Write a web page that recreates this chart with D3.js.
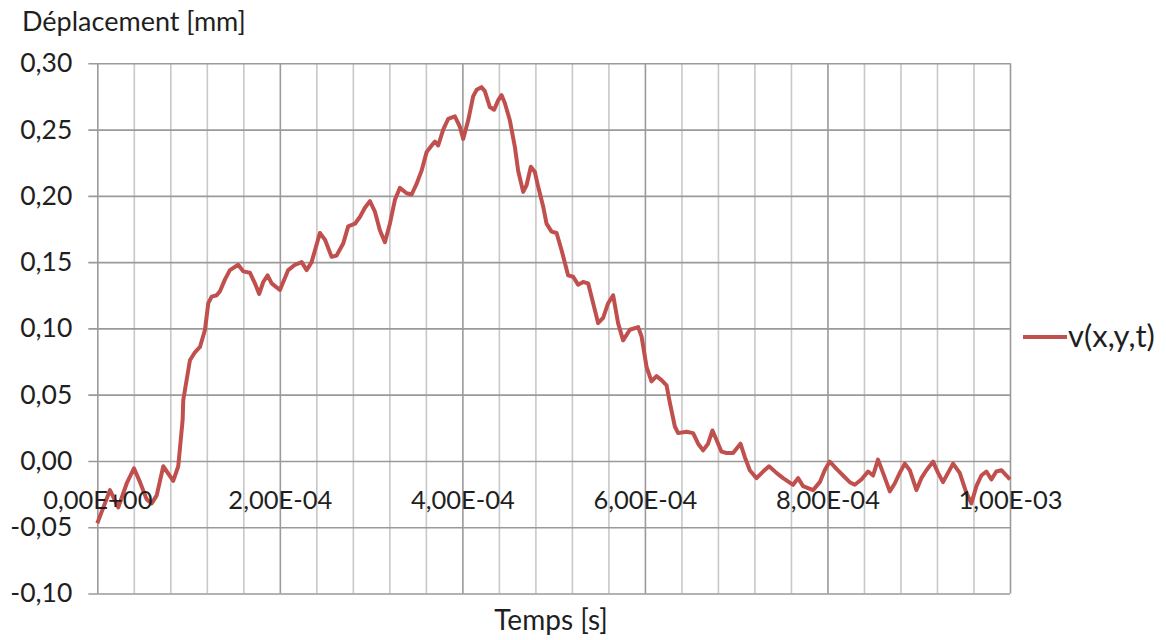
<!DOCTYPE html>
<html>
<head>
<meta charset="utf-8">
<script src="https://cdn.jsdelivr.net/npm/d3@7"></script>
<style>
  body { margin: 0; background: #fff; }
  text { font-family: Lato, "Open Sans", sans-serif; fill: #1f1f1f; }
</style>
</head>
<body>
<svg width="1166" height="640"></svg>
<script>
// time in microseconds, displacement in mm
const timeUs = [
  0, 13.9, 23.0, 32.2, 40.2, 46.8, 54.1, 59.6, 65.1, 72.3, 83.2, 88.7, 93.5, 94.2,
  101.5, 107.0, 112.5, 118.0, 121.6, 125.3, 130.8, 134.4, 139.9, 145.3, 154.4,
  159.9, 167.2, 172.7, 177.4, 181.8, 186.6, 191.0, 196.5, 200.1, 209.2, 216.5,
  223.9, 229.4, 234.8, 243.9, 249.4, 256.7, 262.2, 269.4, 274.9, 282.3, 287.7,
  293.2, 298.7, 304.2, 309.6, 315.1, 320.6, 326.1, 331.5, 338.9, 344.4, 349.8,
  355.3, 360.8, 366.3, 369.9, 373.5, 379.0, 384.4, 391.8, 397.3, 400.9, 406.4,
  411.8, 415.6, 421.0, 424.6, 430.1, 434.8, 439.2, 442.9, 446.5, 452.0, 457.5,
  461.1, 466.6, 470.3, 475.0, 479.4, 483.0, 488.5, 492.2, 497.7, 503.2, 508.7,
  515.9, 521.4, 526.8, 532.3, 537.8, 543.3, 548.7, 554.2, 559.7, 565.2, 570.6,
  576.1, 583.5, 592.6, 596.3, 601.8, 607.2, 612.7, 618.2, 623.7, 627.3, 632.8,
  636.4, 645.6, 652.8, 658.3, 663.7, 669.2, 674.0, 678.4, 683.9, 689.4, 696.6,
  704.7, 709.4, 714.9, 722.3, 729.5, 736.0, 744.1, 751.4, 762.3, 767.8, 773.3,
  784.2, 791.6, 797.0, 802.5, 809.9, 817.1, 824.4, 829.9, 837.2, 844.5, 850.0,
  855.4, 860.9, 868.3, 873.7, 879.2, 884.7, 890.2, 897.5, 902.9, 908.4, 915.7,
  921.2, 926.6, 932.1, 937.6, 944.9, 952.2, 957.7, 963.2, 968.6, 974.1, 979.6,
  985.0, 990.6, 996.1, 1000
]
const displacement = [
  -0.047, -0.022, -0.035, -0.017, -0.0055, -0.016, -0.029, -0.032, -0.026, -0.004, -0.015, -0.004, 0.031, 0.046,
  0.076, 0.082, 0.086, 0.099, 0.119, 0.124, 0.125, 0.128, 0.137, 0.144, 0.148,
  0.143, 0.142, 0.134, 0.126, 0.135, 0.140, 0.134, 0.131, 0.129, 0.144, 0.148,
  0.150, 0.144, 0.150, 0.172, 0.167, 0.154, 0.155, 0.164, 0.177, 0.179, 0.184,
  0.191, 0.196, 0.188, 0.174, 0.165, 0.179, 0.197, 0.206, 0.202, 0.201, 0.209,
  0.219, 0.233, 0.238, 0.241, 0.238, 0.250, 0.258, 0.260, 0.252, 0.243, 0.257,
  0.275, 0.280, 0.282, 0.279, 0.267, 0.265, 0.272, 0.276, 0.270, 0.257, 0.237,
  0.219, 0.203, 0.208, 0.222, 0.218, 0.207, 0.192, 0.179, 0.173, 0.172, 0.159,
  0.140, 0.139, 0.133, 0.135, 0.134, 0.119, 0.104, 0.108, 0.119, 0.125, 0.104,
  0.091, 0.099, 0.101, 0.094, 0.071, 0.060, 0.064, 0.061, 0.057, 0.044, 0.026,
  0.021, 0.022, 0.021, 0.013, 0.008, 0.013, 0.023, 0.016, 0.007, 0.006, 0.006,
  0.013, 0.003, -0.007, -0.013, -0.008, -0.004, -0.009, -0.013, -0.018, -0.013, -0.019,
  -0.022, -0.016, -0.007, -0.0005, -0.006, -0.011, -0.016, -0.018, -0.014, -0.008, -0.011,
  0.001, -0.009, -0.023, -0.017, -0.009, -0.002, -0.007, -0.022, -0.013, -0.007, -0.0005,
  -0.009, -0.016, -0.009, -0.002, -0.009, -0.024, -0.032, -0.019, -0.011, -0.008, -0.014,
  -0.008, -0.007, -0.011, -0.014
]
const xTickValues = [0, 2e-4, 4e-4, 6e-4, 8e-4, 1e-3]
const xTickLabels = ["0,00E+00", "2,00E-04", "4,00E-04", "6,00E-04", "8,00E-04", "1,00E-03"]
const yTickValues = [-0.10, -0.05, 0, 0.05, 0.10, 0.15, 0.20, 0.25, 0.30]
const yTickLabels = ["-0,10", "-0,05", "0,00", "0,05", "0,10", "0,15", "0,20", "0,25", "0,30"]
const seriesName = "v(x,y,t)"
const xAxisLabel = "Temps [s]"
const yAxisLabel = "Déplacement [mm]"

const data = timeUs.map((t, i) => ({ t: t * 1e-6, v: displacement[i] }))

const svg = d3.select("svg")
const margin = { top: 63.3, left: 97.3 }
const innerWidth = 1010 - margin.left
const innerHeight = 593.5 - margin.top

const xScale = d3.scaleLinear().domain([0, 1e-3]).range([0, innerWidth])
const yScale = d3.scaleLinear().domain([-0.1, 0.3]).range([innerHeight, 0])

const g = svg.append("g").attr("transform", `translate(${margin.left},${margin.top})`)

// vertical grid, minor every 4E-05
const minorTicks = d3.range(0, 26).map((i) => i * 4e-5)
const xGrid = g.append("g")
  .attr("transform", `translate(0,${innerHeight})`)
  .call(d3.axisBottom(xScale).tickValues(minorTicks).tickSize(-innerHeight).tickFormat(""))
xGrid.select(".domain").remove()
xGrid.selectAll(".tick line")
  .attr("stroke", (d, i) => (i % 5 === 0 ? "#9a9a9a" : "#c8c8c8"))
  .attr("stroke-width", 1.6)

// horizontal grid + y labels
const yAxisG = g.append("g")
  .call(d3.axisLeft(yScale).tickValues(yTickValues).tickSize(-innerWidth).tickPadding(16)
    .tickFormat((d, i) => yTickLabels[i]))
yAxisG.select(".domain").remove()
yAxisG.selectAll(".tick line").attr("x1", -9).attr("stroke", "#9a9a9a").attr("stroke-width", 1.6)
yAxisG.selectAll(".tick text")
  .attr("font-size", 26.5).attr("font-family", null).attr("fill", null)
  .attr("x", -25)

// main line
g.append("path")
  .datum(data)
  .attr("fill", "none")
  .attr("stroke", "#c0504d")
  .attr("stroke-width", 4)
  .attr("stroke-linejoin", "round")
  .attr("d", d3.line().x((d) => xScale(d.t)).y((d) => yScale(d.v)))

// x labels, at the zero line
const xAxisG = g.append("g")
  .attr("transform", `translate(0,${yScale(0)})`)
  .call(d3.axisBottom(xScale).tickValues(xTickValues).tickSize(0).tickPadding(0)
    .tickFormat((d, i) => xTickLabels[i]))
xAxisG.select(".domain").remove()
xAxisG.selectAll(".tick text")
  .attr("font-size", 25.5).attr("font-family", null).attr("fill", null)
  .attr("dy", null).attr("y", 48)

// axis titles
svg.append("text")
  .attr("x", 22).attr("y", 31)
  .attr("font-size", 27)
  .text(yAxisLabel)

svg.append("text")
  .attr("x", 551).attr("y", 630)
  .attr("text-anchor", "middle")
  .attr("font-size", 28)
  .text(xAxisLabel)

// legend
const legend = svg.append("g").attr("transform", "translate(1023,337)")
legend.append("line").attr("x1", 0).attr("x2", 44)
  .attr("stroke", "#c0504d").attr("stroke-width", 4)
legend.append("text").attr("x", 45).attr("y", 10).attr("font-size", 31).text(seriesName)
</script>
</body>
</html>
